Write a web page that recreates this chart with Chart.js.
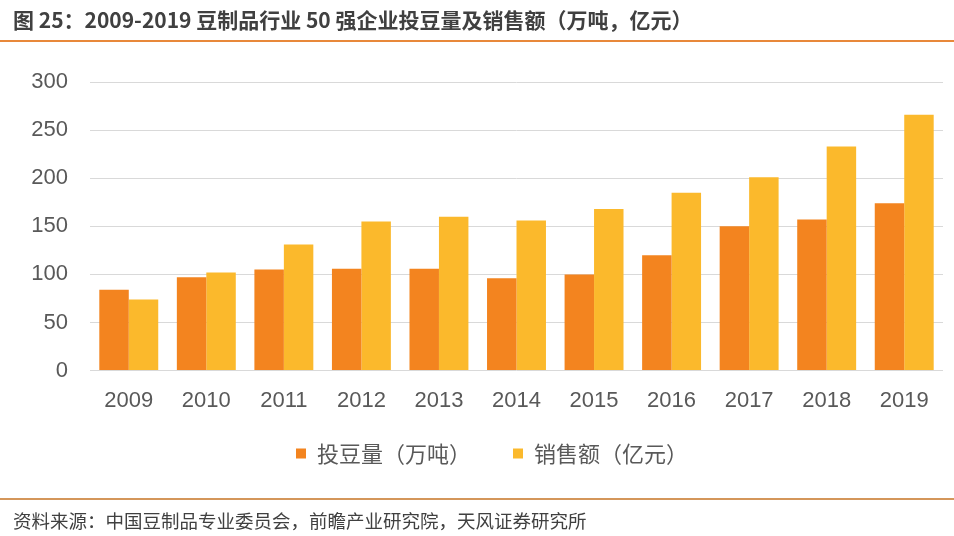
<!DOCTYPE html>
<html lang="zh-CN">
<head>
<meta charset="utf-8">
<script src="https://cdn.jsdelivr.net/npm/chart.js@4/dist/chart.umd.min.js"></script>
<style>
  html, body { margin: 0; padding: 0; background: #fff; }
  #page { position: relative; width: 954px; height: 536px; overflow: hidden; }
  #chart { position: absolute; left: 0; top: 0; z-index: 1; }
  .txt { position: absolute; z-index: 2; white-space: nowrap; font-family: "Noto Sans CJK SC", "Noto Sans", sans-serif; }
  #title { left: 13px; top: 4px; font-size: 21px; font-weight: bold; color: #404040; }
  #source { left: 13px; top: 507px; font-size: 18.5px; color: #404040; }
  .rule { position: absolute; left: 0; width: 954px; height: 2px; z-index: 2; }
  #topRule { top: 40px; background: #e8883a; }
  #bottomRule { top: 498px; background: #d4965a; }
</style>
</head>
<body>
<div id="page">
  <div class="txt" id="title">图 25：2009-2019 豆制品行业 50 强企业投豆量及销售额（万吨，亿元）</div>
  <div class="rule" id="topRule"></div>
  <canvas id="chart" width="954" height="536"></canvas>
  <div class="rule" id="bottomRule"></div>
  <div class="txt" id="source">资料来源：中国豆制品专业委员会，前瞻产业研究院，天风证券研究所</div>
</div>
<script>
const years = ["2009", "2010", "2011", "2012", "2013", "2014", "2015", "2016", "2017", "2018", "2019"];
const beanInput = [84, 97, 105, 106, 106, 96, 100, 120, 150, 157, 174];
const salesValue = [74, 102, 131, 155, 160, 156, 168, 185, 201, 233, 266];
const yTicks = [0, 50, 100, 150, 200, 250, 300];
const seriesNames = ["投豆量（万吨）", "销售额（亿元）"];

const ORANGE = "#f3841f";
const YELLOW = "#fbb92c";
const GRID = "#d9d9d9";
const TEXT = "#595959";

// legend sits a little right of the canvas centre and tucks under the year labels
const legendPlace = {
  id: "legendPlace",
  afterLayout(chart) {
    const lg = chart.legend;
    const h = lg.height;
    lg.left = 41;
    lg.right = chart.chartArea.right;
    lg.top = chart.chartArea.bottom + 30;
    lg.bottom = lg.top + h;
  },
};

const ctx = document.getElementById("chart").getContext("2d");

new Chart(ctx, {
  type: "bar",
  data: {
    labels: years,
    datasets: [
      {
        label: seriesNames[0],
        data: beanInput,
        backgroundColor: ORANGE,
        categoryPercentage: 0.76,
        barPercentage: 1,
      },
      {
        label: seriesNames[1],
        data: salesValue,
        backgroundColor: YELLOW,
        categoryPercentage: 0.76,
        barPercentage: 1,
      },
    ],
  },
  options: {
    responsive: false,
    animation: false,
    layout: {
      padding: { left: 0, right: 11, top: 82, bottom: 39 },
    },
    plugins: {
      legend: {
        position: "bottom",
        labels: {
          boxWidth: 10,
          boxHeight: 10,
          padding: 42,
          color: TEXT,
          font: { family: "'Noto Sans CJK SC', sans-serif", size: 22 },
        },
      },
      tooltip: { enabled: false },
    },
    scales: {
      x: {
        grid: { display: false },
        border: { display: false },
        ticks: {
          color: TEXT,
          padding: 9,
          font: { family: "'Liberation Sans', Arial, sans-serif", size: 22 },
        },
      },
      y: {
        min: 0,
        max: 300,
        grid: { color: GRID, lineWidth: 1, drawTicks: false },
        border: { display: false },
        ticks: {
          color: TEXT,
          padding: 22,
          font: { family: "'Liberation Sans', Arial, sans-serif", size: 22 },
        },
        afterBuildTicks: (scale) => {
          scale.ticks = yTicks.map((v) => ({ value: v }));
        },
        afterFit: (scale) => { scale.width = 90; },
      },
    },
  },
  plugins: [legendPlace],
});
</script>
</body>
</html>
